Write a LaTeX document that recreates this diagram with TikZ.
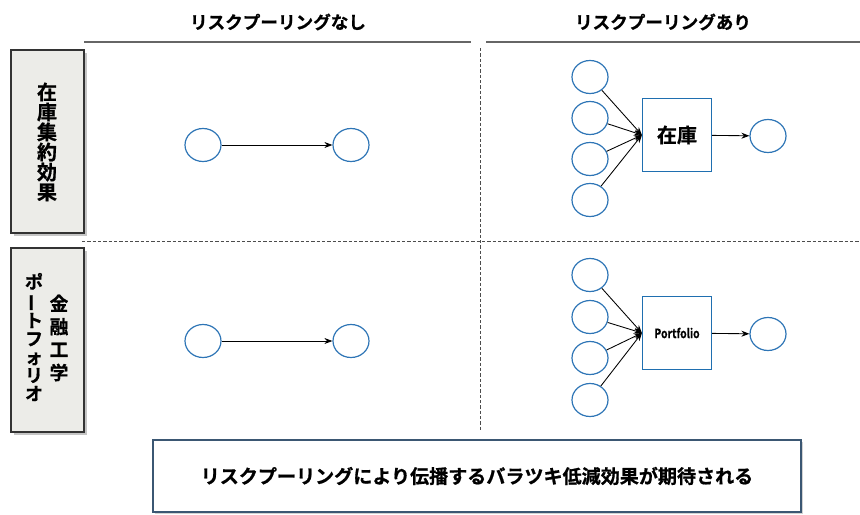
\documentclass[tikz,border=0pt]{standalone}
\usepackage{fontspec}
\usepackage{graphicx}
\setmainfont{Noto Sans CJK JP}[BoldFont=* Bold,BoldFeatures={FakeBold=0.8}]
\usetikzlibrary{arrows.meta,shadows,shapes.geometric}
\definecolor{circblue}{HTML}{2E75B6}
\definecolor{boxblue}{HTML}{1F6FB0}
\definecolor{sidefill}{HTML}{ECECE8}
\definecolor{bottomborder}{HTML}{3B5773}
\newlength{\pxu}\setlength{\pxu}{0.75pt}
\newcommand{\vbar}{\rotatebox[origin=c]{90}{ー}}
\tikzset{
  ell/.style={draw=circblue, line width=0.9pt, ellipse, minimum width=36\pxu, minimum height=33\pxu, inner sep=0pt},
  sidebox/.style={draw=black!80, line width=0.9pt, fill=sidefill, drop shadow={shadow xshift=2pt, shadow yshift=-2pt, fill=black!45}},
  poolbox/.style={draw=boxblue, line width=0.9pt, fill=white, minimum width=69\pxu, minimum height=73\pxu, inner sep=0pt},
  conn/.style={line width=0.65pt, -{Stealth[length=6pt,width=4.5pt]}},
  hline/.style={draw=black!60, line width=1.1pt},
  dline/.style={draw=black!70, line width=0.7pt, dash pattern=on 2.5pt off 1.5pt},
  hdr/.style={font=\bfseries\fontsize{13.2}{16}\selectfont},
  vtext/.style={align=center, inner sep=0pt},
}
\begin{document}
\begin{tikzpicture}[x=0.75pt,y=-0.75pt]
\useasboundingbox (0,0) rectangle (860,514);
% headers
\node[hdr] (h1) at (278,22) {リスクプーリングなし};
\node[hdr] (h2) at (663,22) {リスクプーリングあり};
\draw[hline] (84,42) -- (471,42);
\draw[hline] (486,42) -- (860,42);
% dashed dividers
\draw[dline] (480,48) -- (480,430);
\draw[dline] (82,241) -- (860,241);
% side boxes
\draw[sidebox] (11,50) rectangle (84,233);
\node[vtext, font=\bfseries\fontsize{15}{15}\selectfont] (s1) at (47,142) {在\\庫\\集\\約\\効\\果};
\draw[sidebox] (11,248) rectangle (84,432);
\node[vtext, font=\bfseries\fontsize{14}{17.25}\selectfont] (s2) at (59,338) {金\\融\\工\\学};
\node[vtext, font=\bfseries\fontsize{13.5}{13.7}\selectfont] (s3) at (34,337) {ポ\\\vbar\\ト\\フ\\ォ\\リ\\オ};
% left diagrams
\node[ell] (a1) at (203,145) {};
\node[ell] (a2) at (351,145) {};
\draw[conn] (a1) -- (a2);
\node[ell] (b1) at (203,341) {};
\node[ell] (b2) at (351,341) {};
\draw[conn] (b1) -- (b2);
% right top
\node[poolbox, font=\bfseries\fontsize{15}{18}\selectfont] (inv) at (677,135) {在庫};
\foreach \i/\y in {1/77,2/118,3/159,4/200}{
  \node[ell] (p\i) at (590,\y) {};
  \draw[conn] (p\i) -- (inv.west);
}
\node[ell] (pout) at (768,136) {};
\draw[conn] (inv) -- (pout);
% right bottom
\node[poolbox, font=\bfseries\fontsize{9.5}{12}\selectfont] (port) at (677,333) {\scalebox{0.82}[1]{Portfolio}};
\foreach \i/\y in {1/275,2/317,3/358,4/400}{
  \node[ell] (q\i) at (590,\y) {};
  \draw[conn] (q\i) -- (port.west);
}
\node[ell] (qout) at (768,334) {};
\draw[conn] (port) -- (qout);
% bottom box
\draw[draw=bottomborder, line width=0.9pt, fill=white, drop shadow={shadow xshift=1.5pt, shadow yshift=-1.5pt, fill=black!35}] (153,440) rectangle (801,512);
\node[font=\bfseries\fontsize{14.3}{16}\selectfont] (concl) at (477,476) {リスクプーリングにより伝播するバラツキ低減効果が期待される};
\end{tikzpicture}
\end{document}
